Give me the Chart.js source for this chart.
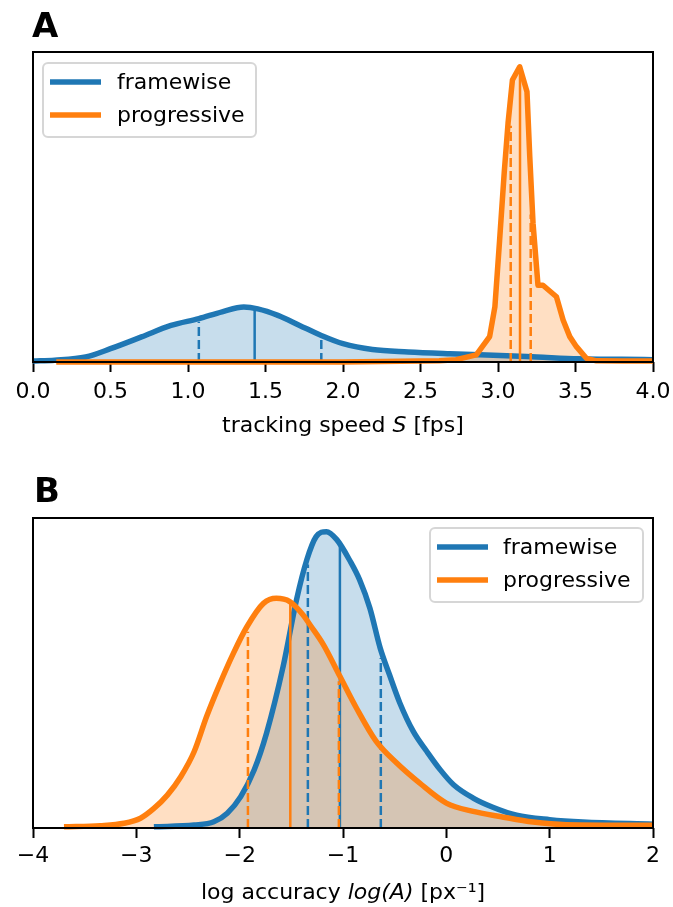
<!DOCTYPE html>
<html><head><meta charset="utf-8">
<script src="https://cdn.jsdelivr.net/npm/chart.js@4/dist/chart.umd.min.js"></script>
<style>
html,body{margin:0;padding:0;background:#fff;}
body{width:673px;height:907px;overflow:hidden;position:relative;}
#wa{position:absolute;left:0;top:0;width:673px;height:453px;}
#wb{position:absolute;left:0;top:453px;width:673px;height:454px;}
</style></head><body>
<div id="wa"><canvas id="ca"></canvas></div>
<div id="wb"><canvas id="cb"></canvas></div>
<script>
// ---------- DATA ----------
const seriesNames = ['framewise', 'progressive'];

// Panel A: tracking speed S [fps]
const A_ticks = [0, 0.5, 1.0, 1.5, 2.0, 2.5, 3.0, 3.5, 4.0];
const A_tickLabels = ['0.0','0.5','1.0','1.5','2.0','2.5','3.0','3.5','4.0'];
const A_frame_x = [0.00,0.14,0.34,0.50,0.70,0.89,1.07,1.22,1.36,1.45,1.58,1.72,1.86,2.00,2.19,2.42,2.69,2.97,3.25,3.52,3.80,4.00];
const A_frame_y = [0.003,0.006,0.017,0.045,0.085,0.124,0.147,0.170,0.186,0.180,0.158,0.124,0.090,0.062,0.042,0.034,0.028,0.023,0.017,0.011,0.009,0.008];
const A_prog_x = [0.15,1.00,2.00,2.62,2.73,2.86,2.946,2.98,3.01,3.04,3.065,3.093,3.14,3.187,3.205,3.226,3.258,3.29,3.377,3.42,3.463,3.506,3.57,3.635,3.80,4.00];
const A_prog_y = [0.000,0.000,0.000,0.004,0.008,0.024,0.086,0.187,0.410,0.640,0.810,0.955,1.000,0.915,0.695,0.470,0.260,0.260,0.221,0.142,0.086,0.052,0.0125,0.004,0.003,0.003];
const A_frame_quart = [1.07, 1.43, 1.86];      // q1, median, q3
const A_frame_quartTop = [0.136, 0.176, 0.080];
const A_prog_quart = [3.082, 3.142, 3.211];
const A_prog_quartTop = [0.80, 0.99, 0.50];

// Panel B: log accuracy log(A) [px^-1]
const B_ticks = [-4, -3, -2, -1, 0, 1, 2];
const B_tickLabels = ['\u22124','\u22123','\u22122','\u22121','0','1','2'];
const B_frame_x = [-2.83,-2.44,-2.25,-2.12,-1.99,-1.86,-1.74,-1.58,-1.45,-1.35,-1.26,-1.16,-1.06,-0.93,-0.84,-0.74,-0.64,-0.55,-0.45,-0.32,-0.19,-0.06,0.07,0.26,0.45,0.68,1.00,1.32,2.00];
const B_frame_y = [0.004,0.010,0.021,0.050,0.106,0.196,0.320,0.544,0.770,0.905,0.983,1.000,0.973,0.900,0.838,0.742,0.607,0.517,0.422,0.326,0.259,0.197,0.146,0.101,0.070,0.043,0.028,0.020,0.013];
const B_prog_x = [-3.70,-3.35,-3.12,-2.96,-2.83,-2.70,-2.57,-2.44,-2.32,-2.19,-2.06,-1.93,-1.77,-1.645,-1.515,-1.386,-1.32,-1.19,-1.03,-0.87,-0.68,-0.48,-0.26,0.00,0.26,0.52,0.84,1.16,2.00];
const B_prog_y = [0.004,0.008,0.016,0.033,0.066,0.111,0.173,0.258,0.376,0.488,0.590,0.679,0.758,0.775,0.764,0.719,0.686,0.619,0.512,0.405,0.293,0.219,0.152,0.084,0.056,0.039,0.020,0.011,0.009];
const B_frame_quart = [-1.34, -1.03, -0.634];
const B_frame_quartTop = [0.889, 0.951, 0.574];
const B_prog_quart = [-1.92, -1.51, -1.04];
const B_prog_quartTop = [0.662, 0.764, 0.495];

// ---------- STYLE ----------
const FONT = "'DejaVu Sans', sans-serif";
const BLUE = '#1f77b4', ORANGE = '#ff7f0e';
const BLUE_FILL = 'rgba(31,119,180,0.25)', ORANGE_FILL = 'rgba(255,127,14,0.25)';

function zip(xs, ys){ return xs.map((x,i)=>({x:x, y:ys[i]})); }

function fillDs(xs, ys, fillColor, order, smooth){
  return {data: zip(xs, ys), borderColor: 'rgba(0,0,0,0)', backgroundColor: fillColor, fill: 'origin',
    borderWidth: 0, pointRadius: 0, tension: 0, cubicInterpolationMode: smooth ? 'monotone' : 'default', order: order, clip: 6};
}
function curveDs(xs, ys, color, order, smooth){
  return {data: zip(xs, ys), borderColor: color, backgroundColor: color, fill: false,
    borderWidth: 5.5, pointRadius: 0, borderJoinStyle: 'round', borderCapStyle: 'butt',
    tension: 0, cubicInterpolationMode: smooth ? 'monotone' : 'default', order: order, clip: 6};
}
function quartDs(xs, tops, color, order){
  return xs.map((x,i)=>({data: [{x:x, y:0}, {x:x, y:tops[i]}], borderColor: color,
    borderWidth: 2.5, borderDash: i === 1 ? [] : [9,4], borderCapStyle: 'butt',
    pointRadius: 0, fill: false, order: order, clip: 6}));
}

const framePlugin = {
  id: 'frame',
  afterDraw(chart){
    const a = chart.chartArea, ctx = chart.ctx, o = chart.options.plugins.frame;
    ctx.save();
    ctx.strokeStyle = '#000'; ctx.lineWidth = 2;
    ctx.strokeRect(a.left, a.top, a.right - a.left, a.bottom - a.top);
    // legend
    const L = o.legend;
    ctx.beginPath();
    const r = 5, x0 = L.x, y0 = L.y, w = L.w, h = L.h;
    ctx.moveTo(x0 + r, y0); ctx.arcTo(x0 + w, y0, x0 + w, y0 + h, r);
    ctx.arcTo(x0 + w, y0 + h, x0, y0 + h, r); ctx.arcTo(x0, y0 + h, x0, y0, r);
    ctx.arcTo(x0, y0, x0 + w, y0, r); ctx.closePath();
    ctx.fillStyle = 'rgba(255,255,255,0.8)'; ctx.fill();
    ctx.strokeStyle = 'rgba(204,204,204,0.8)'; ctx.lineWidth = 2; ctx.stroke();
    const cols = [BLUE, ORANGE];
    ctx.font = '22px ' + FONT; ctx.textBaseline = 'middle'; ctx.textAlign = 'left';
    seriesNames.forEach((name, i) => {
      const yy = L.rowY[i];
      ctx.strokeStyle = cols[i]; ctx.lineWidth = 5.5; ctx.lineCap = 'butt';
      ctx.beginPath(); ctx.moveTo(L.hx0, yy); ctx.lineTo(L.hx1, yy); ctx.stroke();
      ctx.fillStyle = '#000'; ctx.fillText(name, L.tx, yy + 1);
    });
    // axis title with mixed styles
    const segs = o.title, tf = 22;
    let total = 0;
    segs.forEach(s => { ctx.font = (s.it ? 'italic ' : '') + tf + 'px ' + FONT; s.w = ctx.measureText(s.t).width; total += s.w; });
    let x = (a.left + a.right) / 2 - total / 2;
    ctx.textBaseline = 'alphabetic'; ctx.fillStyle = '#000';
    segs.forEach(s => { ctx.font = (s.it ? 'italic ' : '') + tf + 'px ' + FONT; ctx.fillText(s.t, x, a.bottom + o.titleDy); x += s.w; });
    // panel letter
    ctx.font = 'bold 34px ' + FONT; ctx.textBaseline = 'alphabetic';
    ctx.fillText(o.letter, o.letterX, o.letterY);
    ctx.restore();
  }
};

function makePanel(id, cfg){
  const datasets = [
    fillDs(cfg.fx, cfg.fy, BLUE_FILL, 10, true),
    fillDs(cfg.px, cfg.py, ORANGE_FILL, 9, cfg.smoothProg),
    curveDs(cfg.fx, cfg.fy, BLUE, 8, true),
    ...quartDs(cfg.fq, cfg.fqt, BLUE, 7),
    curveDs(cfg.px, cfg.py, ORANGE, 6, cfg.smoothProg),
    ...quartDs(cfg.pq, cfg.pqt, ORANGE, 5)
  ];
  return new Chart(document.getElementById(id), {
    type: 'line',
    data: {datasets: datasets},
    plugins: [framePlugin],
    options: {
      responsive: true, maintainAspectRatio: false, animation: false, devicePixelRatio: 1,
      layout: {padding: {left: 33, right: 20, top: cfg.padTop, bottom: 0}},
      plugins: {legend: {display: false}, tooltip: {enabled: false},
        frame: {legend: cfg.legend, title: cfg.title, titleDy: cfg.titleDy, letter: cfg.letter, letterX: cfg.letterX, letterY: cfg.letterY}},
      scales: {
        x: {type: 'linear', min: cfg.ticks[0], max: cfg.ticks[cfg.ticks.length - 1],
          afterBuildTicks: s => { s.ticks = cfg.ticks.map(v => ({value: v})); },
          afterFit: s => { s.height = cfg.scaleH; s.paddingLeft = 0; s.paddingRight = 0; },
          ticks: {color: '#000', font: {family: FONT, size: 22}, padding: cfg.tickPad, maxRotation: 0, autoSkip: false,
            callback: (v, i) => cfg.labels[i]},
          grid: {display: true, drawOnChartArea: false, drawTicks: true, tickLength: 10, tickWidth: 2, tickColor: '#000'},
          border: {display: false}},
        y: {display: false, min: 0, max: cfg.ymax}
      }
    }
  });
}

makePanel('ca', {
  fx: A_frame_x, fy: A_frame_y, fq: A_frame_quart, fqt: A_frame_quartTop,
  px: A_prog_x, py: A_prog_y, pq: A_prog_quart, pqt: A_prog_quartTop, smoothProg: false,
  ticks: A_ticks, labels: A_tickLabels, ymax: 1.05, padTop: 52, scaleH: 91, tickPad: 7,
  legend: {x: 43, y: 63, w: 213, h: 74, hx0: 50, hx1: 101, tx: 117, rowY: [82, 115]},
  title: [{t: 'tracking speed '}, {t: 'S', it: true}, {t: ' [fps]'}], titleDy: 70,
  letter: 'A', letterX: 32, letterY: 37
});
makePanel('cb', {
  fx: B_frame_x, fy: B_frame_y, fq: B_frame_quart, fqt: B_frame_quartTop,
  px: B_prog_x, py: B_prog_y, pq: B_prog_quart, pqt: B_prog_quartTop, smoothProg: true,
  ticks: B_ticks, labels: B_tickLabels, ymax: 1.046, padTop: 65, scaleH: 79, tickPad: 5,
  legend: {x: 430, y: 75, w: 213, h: 74, hx0: 437, hx1: 488, tx: 503, rowY: [94, 127]},
  title: [{t: 'log accuracy '}, {t: 'log(A)', it: true}, {t: ' [px\u207B\u00B9]'}], titleDy: 71,
  letter: 'B', letterX: 34, letterY: 49
});
</script>
</body></html>
